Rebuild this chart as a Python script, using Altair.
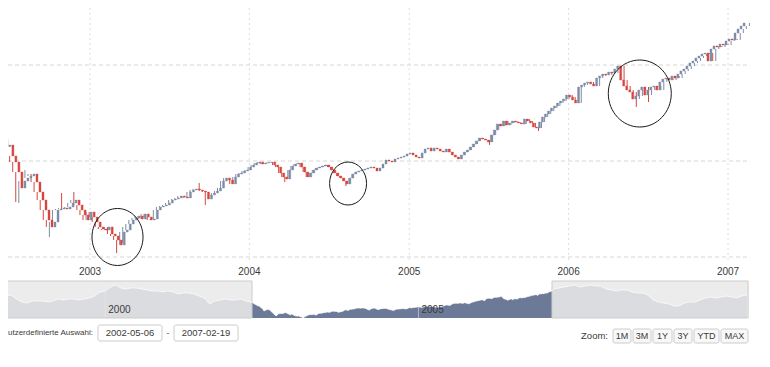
import altair as alt
import pandas as pd

# ---------------- data ----------------
first_week = "2002-05-06"
first_open = 5050
weekly_close = [
    4950, 4800, 4650, 4550, 4450, 4300, 4333, 4104, 3979, 3771,
    3437, 3583, 3646, 3687, 3729, 3562, 3354, 3187, 2979, 2771,
    2625, 2729, 2979, 3000, 3021, 3000, 3042, 3125, 3187, 3083,
    2979, 2875, 2771, 2937, 2833, 2729, 2625, 2583, 2562, 2625,
    2479, 2437, 2354, 2250, 2521, 2562, 2687, 2771, 2812, 2854,
    2792, 2896, 2833, 2771, 2792, 2979, 3042, 3062, 3083, 3125,
    3187, 3208, 3229, 3271, 3250, 3229, 3354, 3396, 3417, 3396,
    3375, 3354, 3208, 3292, 3333, 3375, 3437, 3583, 3646, 3604,
    3521, 3667, 3729, 3750, 3792, 3812, 3875, 3917, 3958, 3979,
    3937, 3958, 3969, 3979, 3917, 3875, 3750, 3667, 3625, 3812,
    3896, 3937, 3958, 3875, 3771, 3667, 3750, 3812, 3854, 3875,
    3896, 3917, 3875, 3812, 3750, 3687, 3646, 3583, 3521, 3646,
    3729, 3771, 3792, 3812, 3833, 3854, 3875, 3854, 3792, 3854,
    3937, 4021, 4000, 3979, 4042, 4062, 4083, 4104, 4146, 4167,
    4125, 4083, 4062, 4167, 4250, 4271, 4208, 4271, 4250, 4208,
    4187, 4250, 4187, 4125, 4083, 4042, 4125, 4187, 4229, 4292,
    4354, 4417, 4479, 4458, 4437, 4396, 4542, 4646, 4771, 4729,
    4833, 4750, 4792, 4833, 4812, 4792, 4771, 4875, 4833, 4792,
    4708, 4687, 4812, 4917, 4979, 5042, 5104, 5146, 5208, 5250,
    5292, 5375, 5333, 5271, 5208, 5542, 5583, 5625, 5646, 5604,
    5562, 5729, 5771, 5812, 5792, 5854, 5833, 5917, 5979, 5687,
    5562, 5479, 5437, 5292, 5354, 5479, 5542, 5375, 5479, 5542,
    5562, 5479, 5646, 5708, 5729, 5687, 5771, 5729, 5812, 5875,
    5917, 5979, 6042, 6083, 6146, 6187, 6229, 6250, 6083, 6333,
    6396, 6375, 6437, 6417, 6500, 6542, 6521, 6667, 6750, 6812,
    6875,
]
wick_high = {7: 4375, 13: 3812, 25: 3333, 29: 3354, 45: 2625, 70: 3542}
wick_low = {10: 3146, 11: 3125, 21: 2417, 43: 2083, 45: 2292, 72: 3083,
            98: 3562, 118: 3479, 165: 4333, 181: 4625, 213: 5125, 217: 5229}

nav_pre_start, nav_pre_end = "1998-04-01", "2002-04-01"
nav_pre_values = [
    5674, 5845, 6016, 6188, 5503, 4989, 4818, 5160, 5160,
    5160, 4989, 5160, 5503, 5332, 5503, 5503, 5332, 5503, 5674, 6016, 6701,
    6872, 7557, 7900, 7386, 7215, 7386, 7386, 7215, 7044, 6872, 6872, 6701,
    6872, 6701, 6359, 6530, 6530, 6359, 6016, 5674, 4647, 5160, 5332, 5503,
    5332, 5332, 5503, 5160,
]
nav_post_start, nav_post_end = "2007-03-01", "2010-04-01"
nav_post_values = [
    7215, 7386, 7557, 7728, 7900, 7557, 7728, 7900, 7728, 7728,
    7215, 7044, 6872, 7044, 7044, 6701, 6530, 6530, 6188, 5332, 4989, 4818,
    4647, 4304, 4304, 4818, 4989, 4989, 5332, 5674, 5845, 5674, 5845, 6016,
    5845, 5674, 6016, 6188,
]
nav_min, nav_max = 2250, 8414

grid_levels = [2000, 4000, 6000]
year_ticks = ["2003", "2004", "2005", "2006", "2007"]
nav_year_ticks = ["2000", "2005"]
range_from = "2002-05-06"
range_to = "2007-02-19"
zoom_buttons = ["1M", "3M", "1Y", "3Y", "YTD", "MAX"]
circle_dates = ["2003-03-05", "2004-08-14", "2006-06-13"]
circle_values = [2417, 3531, 5406]

# ---------------- layout / style ----------------
UP = "#7d8ca6"
DOWN = "#d7463f"
NAV = "#6c7a98"
TXT = "#3a3a3a"
FONT = "Liberation Sans, Arial, sans-serif"
circle_radii = [(25.5, 28.5), (18.5, 21.5), (31.5, 33.5)]
box_x = [(90, 154), (166, 230)]
button_x = [(605, 623), (625, 643), (645, 664), (666, 684), (686, 711), (713, 740)]


def ms(d):
    return int(pd.Timestamp(d).value // 10**6)


X_MAIN = alt.Scale(type="time", domain=[ms("2003-01-01"), ms("2007-01-01")], range=[82, 720], nice=False)
Y_MAIN = alt.Scale(type="linear", domain=[2000, 6000], range=[249, 57], nice=False, zero=False)
X_NAV = alt.Scale(type="time", domain=[ms(range_from), ms(range_to)], range=[244, 544], nice=False)
Y_NAV = alt.Scale(type="linear", domain=[nav_min, nav_max], range=[310, 274], nice=False, zero=False)

# candles table
dates = pd.date_range(first_week, periods=len(weekly_close), freq="7D")
opens = [first_open] + weekly_close[:-1]
highs = [max(o, c) for o, c in zip(opens, weekly_close)]
lows = [min(o, c) for o, c in zip(opens, weekly_close)]
for k, v in wick_high.items():
    highs[k] = max(highs[k], v)
for k, v in wick_low.items():
    lows[k] = min(lows[k], v)
candles = pd.DataFrame({
    "date": dates.strftime("%Y-%m-%d"),
    "open": opens, "close": weekly_close, "high": highs, "low": lows,
    "dir": ["up" if c >= o else "down" for o, c in zip(opens, weekly_close)],
})

nav = pd.concat([
    pd.DataFrame({"date": pd.date_range(nav_pre_start, nav_pre_end, freq="MS").strftime("%Y-%m-%d"),
                  "value": nav_pre_values}),
    pd.DataFrame({"date": candles["date"], "value": candles["close"]}),
    pd.DataFrame({"date": pd.date_range(nav_post_start, nav_post_end, freq="MS").strftime("%Y-%m-%d"),
                  "value": nav_post_values}),
], ignore_index=True)
nav["base"] = nav_min

dir_scale = alt.Scale(domain=["up", "down"], range=[UP, DOWN])

layers = []

# grid lines
layers.append(alt.Chart(pd.DataFrame({"level": grid_levels})).mark_rule(
    color="#d6d6d6", strokeDash=[4, 3], strokeWidth=1).encode(
    y=alt.Y("level:Q", scale=Y_MAIN, axis=None), x=alt.value(0), x2=alt.value(741)))
years_df = pd.DataFrame({"year": year_ticks, "date": [f"{y}-01-01" for y in year_ticks]})
layers.append(alt.Chart(years_df).mark_rule(color="#dcdcdc", strokeDash=[2, 3], strokeWidth=1).encode(
    x=alt.X("date:T", scale=X_MAIN, axis=None), y=alt.value(0), y2=alt.value(255)))

# candles
layers.append(alt.Chart(candles).mark_rule(strokeWidth=1, clip=True).encode(
    x=alt.X("date:T", scale=X_MAIN, axis=None),
    y=alt.Y("low:Q", scale=Y_MAIN, axis=None), y2="high:Q",
    color=alt.Color("dir:N", scale=dir_scale, legend=None)))
layers.append(alt.Chart(candles).mark_bar(size=2, strokeWidth=0.4, clip=True).encode(
    x=alt.X("date:T", scale=X_MAIN, axis=None),
    y=alt.Y("open:Q", scale=Y_MAIN, axis=None), y2="close:Q",
    fill=alt.Fill("dir:N", scale=dir_scale, legend=None),
    stroke=alt.Stroke("dir:N", scale=dir_scale, legend=None)))

# x axis labels
layers.append(alt.Chart(years_df).mark_text(font=FONT, fontSize=10, color=TXT, baseline="middle").encode(
    x=alt.X("date:T", scale=X_MAIN, axis=None), y=alt.value(264), text="year:N"))

# hand-drawn circles
for d, v, (rx, ry) in zip(circle_dates, circle_values, circle_radii):
    k = round(rx / ry, 3)
    path = f"M{-k},0 A{k},1 0 1,1 {k},0 A{k},1 0 1,1 {-k},0 Z"
    layers.append(alt.Chart(pd.DataFrame({"date": [d], "value": [v]})).mark_point(
        shape=path, filled=False, color="#1a1a1a", strokeWidth=1, opacity=1, size=(2 * ry) ** 2).encode(
        x=alt.X("date:T", scale=X_MAIN, axis=None), y=alt.Y("value:Q", scale=Y_MAIN, axis=None)))

# navigator
layers.append(alt.Chart(nav).mark_area(color=NAV, clip=True, opacity=1).encode(
    x=alt.X("date:T", scale=X_NAV, axis=None), y=alt.Y("value:Q", scale=Y_NAV, axis=None),
    y2="base:Q"))
nav_years = pd.DataFrame({"year": nav_year_ticks, "date": [f"{y}-01-01" for y in nav_year_ticks]})
layers.append(alt.Chart(nav_years).mark_rule(color="white", opacity=0.45, strokeWidth=1).encode(
    x=alt.X("date:T", scale=X_NAV, axis=None), y=alt.value(273), y2=alt.value(310)))
masks = pd.DataFrame({"s": ["1998-01-01", range_to], "e": [range_from, "2010-04-08"]})
layers.append(alt.Chart(masks).mark_rect(fill="#e9e9e9", fillOpacity=0.88, stroke="#cccccc",
                                         strokeWidth=1, clip=True).encode(
    x=alt.X("s:T", scale=X_NAV, axis=None), x2="e:T", y=alt.value(273), y2=alt.value(310)))
layers.append(alt.Chart(nav).mark_line(color="white", strokeWidth=1, opacity=0.7, clip=True).encode(
    x=alt.X("date:T", scale=X_NAV, axis=None), y=alt.Y("value:Q", scale=Y_NAV, axis=None)))
layers.append(alt.Chart(nav_years).mark_text(font=FONT, fontSize=10, color=TXT, align="left",
                                             baseline="middle", dx=3).encode(
    x=alt.X("date:T", scale=X_NAV, axis=None), y=alt.value(302), text="year:N"))

# range selector controls
layers.append(alt.Chart(pd.DataFrame({"t": ["utzerdefinierte Auswahl:"]})).mark_text(
    font=FONT, fontSize=8, color=TXT, align="left", baseline="middle").encode(
    x=alt.value(0), y=alt.value(325), text="t:N"))
boxes = pd.DataFrame({"label": [range_from, range_to],
                      "x0": [b[0] for b in box_x], "x1": [b[1] for b in box_x]})
boxes["xm"] = (boxes["x0"] + boxes["x1"]) / 2
layers.append(alt.Chart(boxes).mark_rect(fill="white", stroke="#cccccc", strokeWidth=1, cornerRadius=2).encode(
    x=alt.X("x0:Q", scale=None), x2="x1:Q", y=alt.value(317), y2=alt.value(333)))
layers.append(alt.Chart(boxes).mark_text(font=FONT, fontSize=9.5, color=TXT, baseline="middle").encode(
    x=alt.X("xm:Q", scale=None), y=alt.value(325), text="label:N"))
layers.append(alt.Chart(pd.DataFrame({"t": ["-"]})).mark_text(
    font=FONT, fontSize=10, color="#888888", baseline="middle").encode(
    x=alt.value(160), y=alt.value(325), text="t:N"))
layers.append(alt.Chart(pd.DataFrame({"t": ["Zoom:"]})).mark_text(
    font=FONT, fontSize=9.5, color=TXT, align="right", baseline="middle").encode(
    x=alt.value(600), y=alt.value(328), text="t:N"))
buttons = pd.DataFrame({"label": zoom_buttons,
                        "x0": [b[0] for b in button_x], "x1": [b[1] for b in button_x]})
buttons["xm"] = (buttons["x0"] + buttons["x1"]) / 2
layers.append(alt.Chart(buttons).mark_rect(fill="#f8f8f8", stroke="#cccccc", strokeWidth=1, cornerRadius=2).encode(
    x=alt.X("x0:Q", scale=None), x2="x1:Q", y=alt.value(321), y2=alt.value(335)))
layers.append(alt.Chart(buttons).mark_text(font=FONT, fontSize=9, color=TXT, baseline="middle").encode(
    x=alt.X("xm:Q", scale=None), y=alt.value(328), text="label:N"))

chart = alt.layer(*layers).resolve_scale(
    x="independent", y="independent", color="independent", fill="independent", stroke="independent"
).properties(
    width=754, height=351, padding=0,
    autosize=alt.AutoSizeParams(type="none"), background="white"
).configure_view(strokeWidth=0)

chart.save("out.html", embed_options={"renderer": "svg", "actions": False})
